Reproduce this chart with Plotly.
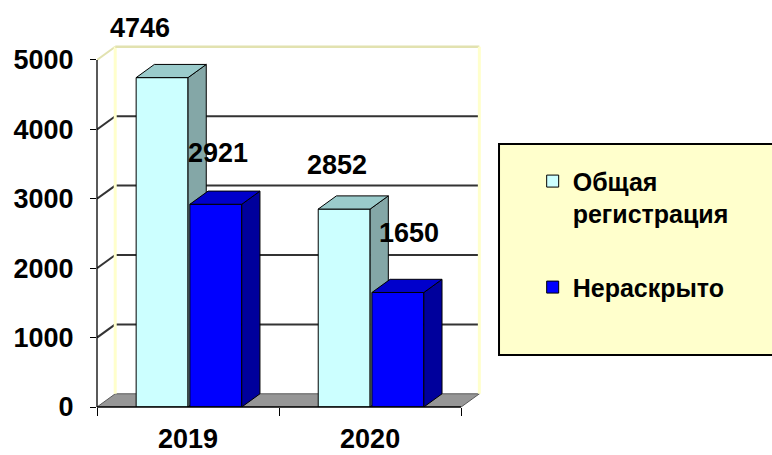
import plotly.graph_objects as go

# ---------------- data ----------------
categories = ["2019", "2020"]
series_names = ["Общая<br>регистрация", "Нераскрыто"]
total_registered = [4746, 2852]
unsolved = [2921, 1650]
y_ticks = [0, 1000, 2000, 3000, 4000, 5000]

# ---------------- style ----------------
FONT = "Liberation Sans, Arial, sans-serif"
DX = 0.1          # 3-D depth along x (axis units)
DY = 190          # 3-D depth along y (axis units)
BAR_W = 0.285
OFFSETS = [-0.285, 0.01]
FRONT = ["#CCFFFF", "#0000FF"]
SIDE = ["#84A7A7", "#00009C"]
TOP = ["#9ACBCB", "#0000CC"]
LABEL_SHIFT = [[(-22, 50), (-7, 44)], [(2, 51), (11, 59)]]
X_MIN, X_MAX = -0.5, 1.62
Y_MAX = 5216
WALL_EDGE = "#E2E2B0"
GRID = "#333333"
TXT = dict(family=FONT, size=27, color="black", weight="bold")

series = [total_registered, unsolved]
xpos = list(range(len(categories)))
axes = [("x", "y"), ("x2", "y2")]

fig = go.Figure()
for k, vals in enumerate(series):
    xa, ya = axes[k]
    for i, v in enumerate(vals):
        xl = xpos[i] + OFFSETS[k]
        xr = xl + BAR_W
        fig.add_trace(go.Scatter(
            x=[xr, xr + DX, xr + DX, xr, xr], y=[0, DY, v + DY, v, 0],
            fill="toself", fillcolor=SIDE[k], mode="lines",
            line=dict(color="black", width=1), showlegend=False,
            hoverinfo="skip", xaxis=xa, yaxis=ya))
        fig.add_trace(go.Scatter(
            x=[xl, xl + DX, xr + DX, xr, xl], y=[v, v + DY, v + DY, v, v],
            fill="toself", fillcolor=TOP[k], mode="lines",
            line=dict(color="black", width=1), showlegend=False,
            hoverinfo="skip", xaxis=xa, yaxis=ya))
    fig.add_trace(go.Bar(
        x=xpos, y=vals, width=BAR_W, offset=OFFSETS[k],
        marker=dict(color=FRONT[k], line=dict(color="black", width=1)),
        name=series_names[k], legendgroup=str(k),
        xaxis=xa, yaxis=ya, hoverinfo="x+y"))

# data labels
for k, vals in enumerate(series):
    for i, v in enumerate(vals):
        sx, sy = LABEL_SHIFT[k][i]
        fig.add_annotation(
            x=xpos[i] + OFFSETS[k] + BAR_W / 2, y=v, xref="x", yref="y",
            text=str(v), showarrow=False, xshift=sx, yshift=sy, font=TXT)

shapes = []
# floor
x0b = X_MIN + DX
x1f = X_MIN + len(categories)
shapes.append(dict(type="path", xref="x", yref="y", layer="below",
                   path=f"M {X_MIN},0 L {x1f},0 L {x1f + DX},{DY} L {x0b},{DY} Z",
                   fillcolor="#969696", line=dict(color="#5a5a5a", width=1)))
# gridlines on back wall and left wall
for v in y_ticks[1:-1]:
    shapes.append(dict(type="line", xref="x", yref="y", layer="below",
                       x0=x0b, x1=x1f + DX, y0=v + DY, y1=v + DY,
                       line=dict(color=GRID, width=2)))
    shapes.append(dict(type="line", xref="x", yref="y", layer="below",
                       x0=X_MIN, x1=x0b, y0=v, y1=v + DY,
                       line=dict(color=GRID, width=2)))
top = y_ticks[-1]
# wall edges
shapes.append(dict(type="line", xref="x", yref="y", layer="below",
                   x0=X_MIN, x1=x0b, y0=top, y1=top + DY,
                   line=dict(color=WALL_EDGE, width=2)))
shapes.append(dict(type="line", xref="x", yref="y", layer="below",
                   x0=x0b, x1=x0b, y0=DY, y1=top + DY,
                   line=dict(color="#FFFFCC", width=3)))
shapes.append(dict(type="line", xref="x", yref="y", layer="below",
                   x0=x0b, x1=x1f + DX, y0=top + DY, y1=top + DY,
                   line=dict(color=WALL_EDGE, width=2.5)))
shapes.append(dict(type="line", xref="x", yref="y", layer="below",
                   x0=x1f + DX, x1=x1f + DX, y0=DY, y1=top + DY,
                   line=dict(color="#FFFFCC", width=3)))
# axis lines
shapes.append(dict(type="line", xref="paper", yref="y", layer="above",
                   x0=0, x1=0, y0=0, y1=top, line=dict(color="black", width=1.3)))
shapes.append(dict(type="line", xref="x", yref="paper", layer="above",
                   x0=X_MIN, x1=x1f, y0=0, y1=0, line=dict(color="black", width=1.3)))
# legend box
shapes.append(dict(type="rect", xref="paper", yref="paper", layer="above",
                   x0=1.0415, x1=1.78, y0=0.1436, y1=0.7265,
                   fillcolor="#FFFFCC", line=dict(color="black", width=2)))

fig.update_layout(
    width=772, height=455,
    margin=dict(l=97, r=289, t=45, b=48, autoexpand=False),
    paper_bgcolor="white", plot_bgcolor="white",
    barmode="overlay",
    font=TXT,
    shapes=shapes,
    xaxis=dict(range=[X_MIN, X_MAX], tickvals=xpos, ticktext=categories,
               ticks="", showgrid=False, zeroline=False, showline=False,
               automargin=False, ticklabelstandoff=13, tickfont=TXT,
               minor=dict(tickvals=[X_MIN + j for j in range(len(categories) + 1)],
                          ticks="outside", ticklen=8, tickwidth=1.3, tickcolor="black",
                          showgrid=False)),
    yaxis=dict(range=[0, Y_MAX], tickvals=y_ticks, ticks="outside", ticklen=6,
               tickwidth=1.3, tickcolor="black", showgrid=False, zeroline=False,
               showline=False, automargin=False, ticklabelstandoff=11,
               tickfont=TXT),
    xaxis2=dict(range=[X_MIN, X_MAX], overlaying="x", visible=False),
    yaxis2=dict(range=[0, Y_MAX], overlaying="y", visible=False),
    legend=dict(xref="container", yref="container", x=0.690, y=0.652,
                xanchor="left", yanchor="top", bgcolor="rgba(0,0,0,0)",
                borderwidth=0, traceorder="grouped", tracegroupgap=38,
                valign="top",
                font=dict(family=FONT, size=25, color="black", weight="bold")),
    showlegend=True,
)

fig.write_html("out.html")
